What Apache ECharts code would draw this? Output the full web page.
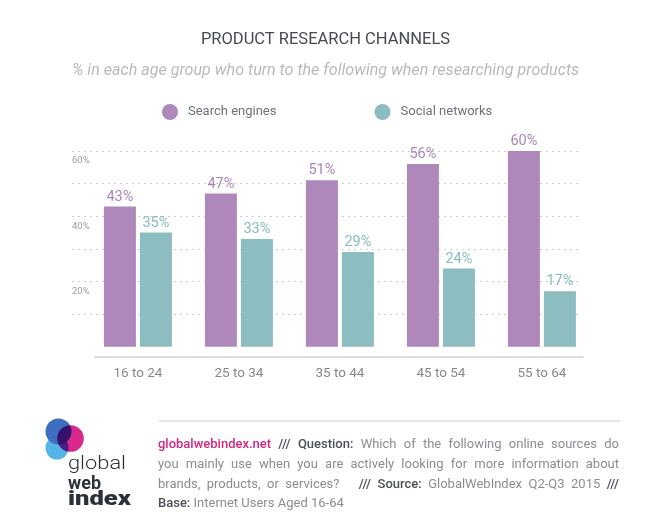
<!DOCTYPE html>
<html><head><meta charset="utf-8">
<script src="https://cdn.jsdelivr.net/npm/echarts@6/dist/echarts.min.js"></script>
<style>html,body{margin:0;padding:0;background:#fff;}#c{width:651px;height:518px;}</style>
</head><body><div id="c"></div>
<script>
// ---------- data ----------
const categories = ['16 to 24', '25 to 34', '35 to 44', '45 to 54', '55 to 64'];
const searchEngines = [43, 47, 51, 56, 60];
const socialNetworks = [35, 33, 29, 24, 17];
const seriesNames = ['Search engines', 'Social networks'];
const yTickLabels = [20, 40, 60];
const titleText = 'PRODUCT RESEARCH CHANNELS';
const subtitleText = '% in each age group who turn to the following when researching products';
const footerLine1 = [['link', 'globalwebindex.net'], ['bold', '///'], ['bold', 'Question:'], ['norm', 'Which of the following online sources do']];
const footerLine2 = [['norm', 'you mainly use when you are actively looking for more information about']];
const footerLine3 = [['norm', 'brands, products, or services?'], ['bold', '/// Source:', 3], ['norm', 'GlobalWebIndex Q2-Q3 2015'], ['bold', '///']];
const footerLine4 = [['bold', 'Base:'], ['norm', 'Internet Users Aged 16-64']];
const logoWords = ['global', 'web', 'index'];

// ---------- style ----------
const PURPLE = '#ae87bb';
const TEAL = '#8bbdc1';
const FONT = 'Roboto';

const cv = document.createElement('canvas').getContext('2d');
function measure(text, weight, size) {
  cv.font = weight + ' ' + size + 'px ' + FONT;
  return cv.measureText(text).width;
}

const footStyles = {
  link: { fill: '#d3287f', weight: 500 },
  bold: { fill: '#4b5059', weight: 500 },
  norm: { fill: '#8a8e93', weight: 400 }
};
const FOOT_SIZE = 13;
function footerLine(tokensSrc, y, justify) {
  const L = 158, R = 619;
  const toks = [];
  tokensSrc.forEach(function (seg) {
    const words = seg[1].split(' ');
    words.forEach(function (w, i) {
      toks.push({ t: w, s: seg[0], gap: i === 0 ? (seg[2] || 1) : 1 });
    });
  });
  const widths = toks.map(function (k) { return measure(k.t, footStyles[k.s].weight, FOOT_SIZE); });
  const total = widths.reduce(function (a, b) { return a + b; }, 0);
  let units = 0;
  toks.forEach(function (k, i) { if (i > 0) units += k.gap; });
  const space = measure(' ', 400, FOOT_SIZE);
  const unit = justify ? (R - L - total) / units : space;
  let x = L;
  const els = [];
  toks.forEach(function (k, i) {
    if (i > 0) x += unit * k.gap;
    els.push({
      type: 'text', x: x, y: y,
      style: { text: k.t, fill: footStyles[k.s].fill, fontSize: FOOT_SIZE, fontWeight: footStyles[k.s].weight, fontFamily: FONT, verticalAlign: 'middle' }
    });
    x += widths[i];
  });
  return els;
}

function logoText(text, weight, size, targetW, y) {
  const w = measure(text, weight, size);
  return {
    type: 'text', x: 68, y: y, scaleX: targetW / w,
    style: { text: text, fill: '#2a313b', fontSize: size, fontWeight: weight, fontFamily: FONT, verticalAlign: 'middle' }
  };
}

const graphics = [
  { type: 'line', shape: { x1: 159, y1: 421, x2: 620, y2: 421 }, style: { stroke: '#cfcfcf', lineWidth: 1 } },
  { type: 'circle', shape: { cx: 57, cy: 448, r: 11.5 }, style: { fill: '#55b5e7' } },
  { type: 'circle', shape: { cx: 58.5, cy: 431.5, r: 13 }, style: { fill: '#3e6ec2' } },
  { type: 'circle', shape: { cx: 70.5, cy: 438.5, r: 13.3 }, style: { fill: '#d8278d', blend: 'multiply' } },
  logoText(logoWords[0], 300, 19, 58, 464),
  logoText(logoWords[1], 700, 18, 33, 484),
  logoText(logoWords[2], 900, 21, 63, 500)
].concat(footerLine(footerLine1, 445, true))
 .concat(footerLine(footerLine2, 465, true))
 .concat(footerLine(footerLine3, 484.5, true))
 .concat(footerLine(footerLine4, 504, false));

const labelStyle = function (color) {
  return { show: true, position: 'top', distance: 2, color: color, fontSize: 14.5, fontFamily: FONT, formatter: '{c}%' };
};

const chart = echarts.init(document.getElementById('c'), null, { renderer: 'canvas' });
chart.setOption({
  backgroundColor: '#ffffff',
  animation: false,
  textStyle: { fontFamily: FONT },
  title: [
    { text: titleText, left: 'center', top: 31, padding: 0, textStyle: { fontSize: 16.5, fontWeight: 'normal', color: '#464c55', fontFamily: FONT } },
    { text: subtitleText, left: 'center', top: 63, padding: 0, textStyle: { fontSize: 16.1, fontStyle: 'italic', fontWeight: 'normal', color: '#b6babf', fontFamily: FONT } }
  ],
  legend: [
    { data: [seriesNames[0]], left: 162, top: 104, padding: 0, icon: 'circle', itemWidth: 26, itemHeight: 16, textStyle: { fontSize: 13, color: '#6e7379', fontFamily: FONT } },
    { data: [seriesNames[1]], left: 374.5, top: 104, padding: 0, icon: 'circle', itemWidth: 26, itemHeight: 16, textStyle: { fontSize: 13, color: '#6e7379', fontFamily: FONT } }
  ],
  grid: [
    { left: 72, right: 69, top: 151, bottom: 171.3, containLabel: false },
    { left: 87.4, right: 58.6, top: 151, bottom: 171.3, containLabel: false },
    { left: 95, right: 68.3, top: 151, bottom: 161.3, containLabel: false }
  ],
  xAxis: [
    { gridIndex: 0, type: 'value', show: false },
    { gridIndex: 1, type: 'category', data: categories, axisLine: { show: false }, axisTick: { show: false },
      axisLabel: { margin: 20, fontSize: 13.5, color: '#85898e', fontFamily: FONT } },
    { gridIndex: 2, type: 'value', min: 0, max: 1, axisLine: { show: true, lineStyle: { color: '#dcdcdc', width: 2 } },
      axisTick: { show: false }, axisLabel: { show: false }, splitLine: { show: false } }
  ],
  yAxis: [
    { gridIndex: 0, type: 'value', min: 0, max: 60, interval: 10,
      axisLine: { show: false }, axisTick: { show: false },
      splitLine: { show: true, showMinLine: false, lineStyle: { color: '#cdcdcd', type: [2, 4], width: 1 } },
      axisLabel: { inside: true, margin: 0, verticalAlign: 'top', padding: [5, 0, 0, 0], fontSize: 9.5, color: '#9a9da1', fontFamily: FONT,
        formatter: function (v) { return yTickLabels.indexOf(v) >= 0 ? v + '%' : ''; } } },
    { gridIndex: 1, type: 'value', min: 0, max: 60, show: false },
    { gridIndex: 2, type: 'value', min: 0, max: 1, show: false }
  ],
  series: [
    { name: seriesNames[0], type: 'bar', xAxisIndex: 1, yAxisIndex: 1, data: searchEngines, barWidth: 32, barGap: '12.5%',
      itemStyle: { color: PURPLE }, label: labelStyle('#a985b8') },
    { name: seriesNames[1], type: 'bar', xAxisIndex: 1, yAxisIndex: 1, data: socialNetworks, barWidth: 32, barGap: '12.5%',
      itemStyle: { color: TEAL }, label: labelStyle('#87bcc0') }
  ],
  graphic: graphics
});
</script>
</body></html>
